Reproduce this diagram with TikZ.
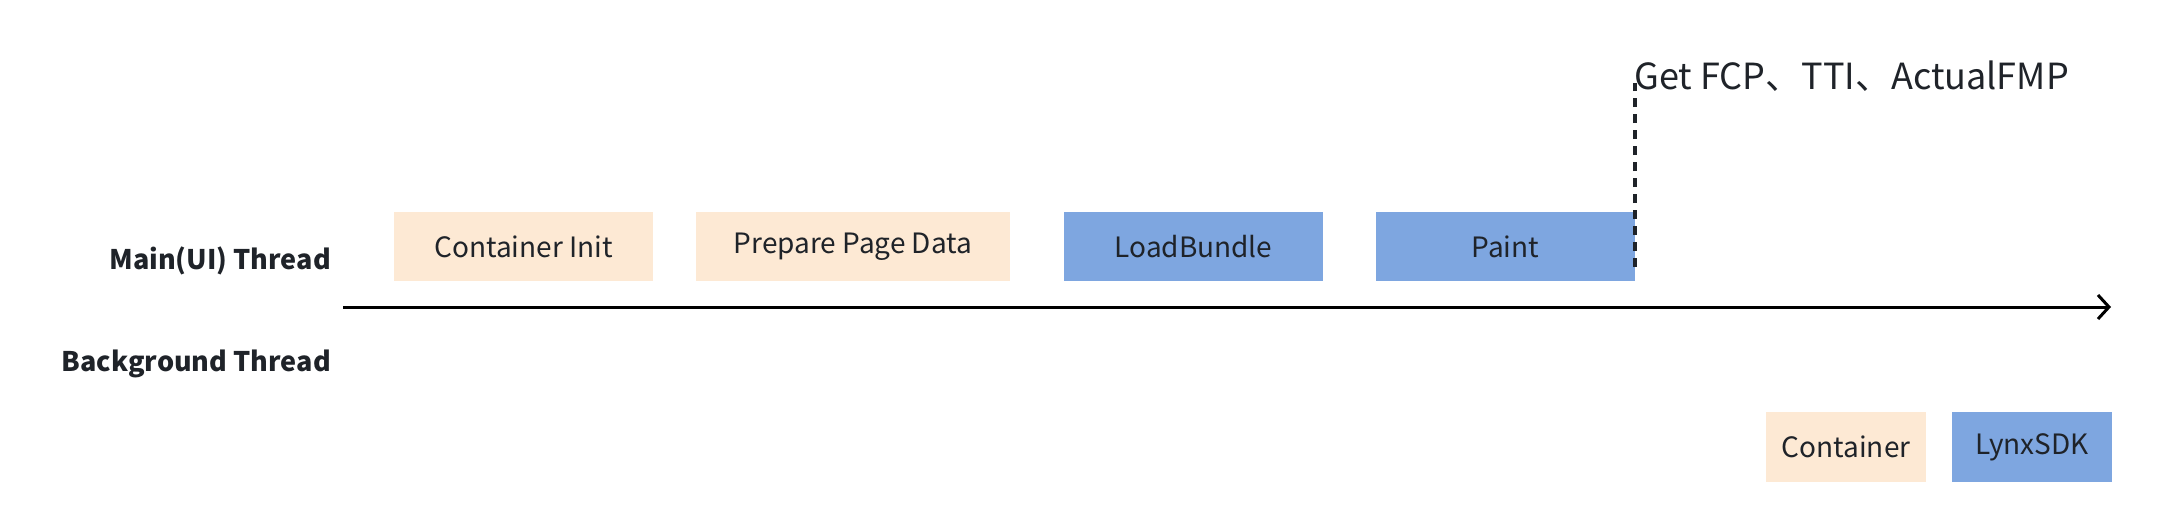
\documentclass[tikz,border=0pt]{standalone}
\usepackage{fontspec}
\setmainfont{Noto Sans CJK SC}
\usetikzlibrary{arrows.meta}
\definecolor{peach}{HTML}{FDE9D4}
\definecolor{bluebox}{HTML}{7EA6E0}
\definecolor{ink}{HTML}{1F2329}
\begin{document}
\begin{tikzpicture}[x=1pt,y=-1pt,
  stage/.style={rectangle, inner sep=0pt, minimum height=69pt, text=ink, font=\fontsize{28}{32}\selectfont},
  orange/.style={stage, fill=peach},
  blue/.style={stage, fill=bluebox},
  lane/.style={anchor=east, inner sep=0pt, text=ink, font=\bfseries\fontsize{27}{32}\selectfont}]
\useasboundingbox[fill=white] (0,0) rectangle (2178,530);
\node[lane] (main) at (331,261) {Main(UI) Thread};
\node[lane] (bg) at (331,364) {Background Thread};
\node[orange, minimum width=259pt] (ci) at (523.5,246.5) {Container Init};
\node[orange, minimum width=314pt] (ppd) at (853,246.5) {Prepare Page Data};
\node[blue, minimum width=259pt] (lb) at (1193.5,246.5) {LoadBundle};
\node[blue, minimum width=259pt] (paint) at (1505.5,246.5) {Paint};
\node[orange, minimum width=160pt, minimum height=70pt] (cont) at (1846,447) {Container};
\node[blue, minimum width=160pt, minimum height=70pt] (lynx) at (2032,447) {LynxSDK};
\coordinate (axs) at (343,307);
\coordinate (axe) at (2111,307);
\draw[line width=3pt, -{Straight Barb[length=11pt,width=24pt,line width=3pt]}] (axs) -- (axe);
\coordinate (dtop) at (1635,83);
\coordinate (dbot) at (1635,267);
\draw[ink, line width=3.5pt, dash pattern=on 9pt off 7pt] (dbot) -- (dtop);
\node[anchor=west, inner sep=0pt, text=ink, font=\fontsize{36}{42}\selectfont] (get) at (1634,76) {Get FCP、TTI、ActualFMP};
\end{tikzpicture}
\end{document}
